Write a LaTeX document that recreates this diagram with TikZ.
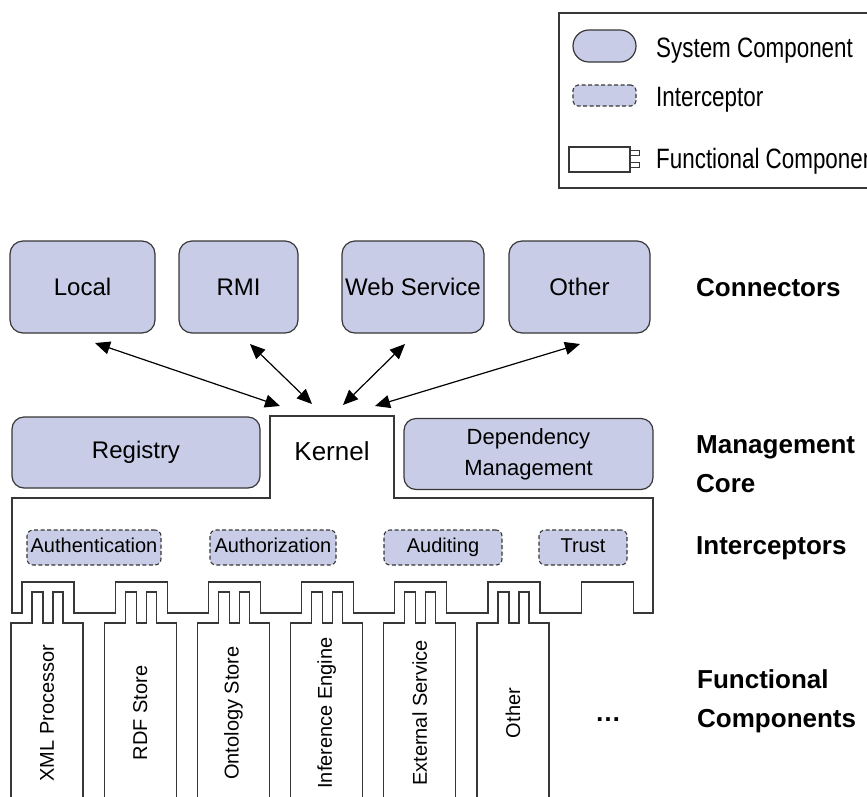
\documentclass[tikz,border=0pt]{standalone}
\usepackage{fontspec}
\usepackage{graphicx}
\setmainfont{Liberation Sans}
\usetikzlibrary{arrows.meta}
\definecolor{fillc}{RGB}{201,204,230}
\definecolor{linec}{RGB}{55,55,55}
\begin{document}
\begin{tikzpicture}[x=1pt,y=-1pt,
  sys/.style={draw=linec, fill=fillc, rounded corners=13pt, line width=1.2pt, inner sep=0pt, align=center, font=\fontsize{24}{28}\selectfont},
  icp/.style={draw=linec, fill=fillc, dash pattern=on 4pt off 2.5pt, rounded corners=6pt, line width=1.1pt, inner sep=0pt, text height=14.5pt, text depth=4.2pt, font=\fontsize{20}{24}\selectfont},
  lbl/.style={font=\fontsize{26}{39}\selectfont\bfseries, align=left, anchor=west, inner sep=0pt},
  outl/.style={line width=1.2pt, draw=linec},
  fctext/.style={rotate=90, inner sep=0pt, font=\fontsize{20}{24}\selectfont},
  legtext/.style={anchor=base west, inner sep=0pt, font=\fontsize{28}{32}\selectfont},
  arr/.style={{Triangle[length=15pt,width=13pt]}-{Triangle[length=15pt,width=13pt]}, line width=1.2pt, draw=black},
]
\useasboundingbox (0,0) rectangle (867,796);
\clip (0,0) rectangle (867,796);

% legend
\draw[outl] (870,13) -- (559,13) -- (559,188) -- (870,188);
\node[draw=linec, fill=fillc, line width=1.2pt, rounded corners=15.9pt, minimum width=63pt, minimum height=32pt, inner sep=0pt] (lsys) at (604.5,46) {};
\node[icp, minimum width=63pt, minimum height=21pt, rounded corners=5pt] (licp) at (604.5,95.5) {};
\node[draw=linec, fill=white, line width=1.2pt, minimum width=61pt, minimum height=25pt, inner sep=0pt] (lfc) at (599.5,159.5) {};
\draw[outl] (lfc.east) ++(0,-9) -- ++(9,0) -- ++(0,5) -- ++(-9,0);
\draw[outl] (lfc.east) ++(0,3) -- ++(9,0) -- ++(0,5) -- ++(-9,0);
\node[legtext] (tsys) at (656,57) {\scalebox{0.8}[1]{System Component}};
\node[legtext] (ticp) at (656,106) {\scalebox{0.8}[1]{Interceptor}};
\node[legtext] (tfc) at (656,168) {\scalebox{0.8}[1]{Functional Component}};

% connectors
\node[sys, minimum width=145pt, minimum height=92pt] (local) at (82.5,287) {Local};
\node[sys, minimum width=119pt, minimum height=92pt] (rmi) at (238.5,287) {RMI};
\node[sys, minimum width=142pt, minimum height=92pt] (ws) at (413,287) {Web Service};
\node[sys, minimum width=141pt, minimum height=92pt] (other) at (579.5,287) {Other};

% kernel outline
\draw[outl] (270,416) -- (394,416) -- (394,498) -- (653,498) -- (653,613)
  -- (633.2,613) -- (633.2,582) -- (581.2,582) -- (581.2,613)
  -- (540,613) -- (540,582) -- (488,582) -- (488,613)
  -- (446.8,613) -- (446.8,582) -- (394.8,582) -- (394.8,613)
  -- (353.6,613) -- (353.6,582) -- (301.6,582) -- (301.6,613)
  -- (260.4,613) -- (260.4,582) -- (208.4,582) -- (208.4,613)
  -- (167.2,613) -- (167.2,582) -- (115.2,582) -- (115.2,613)
  -- (74,613) -- (74,582) -- (22,582) -- (22,613)
  -- (12,613) -- (12,498) -- (270,498) -- cycle;
\node[inner sep=0pt, font=\fontsize{26}{30}\selectfont] (kernel) at (332,451) {Kernel};

% arrows
\coordinate (a1) at (95,343);  \coordinate (b1) at (280,406);
\coordinate (a2) at (250,344); \coordinate (b2) at (312,404);
\coordinate (a3) at (405,344); \coordinate (b3) at (343,405);
\coordinate (a4) at (580,344); \coordinate (b4) at (375,406);
\draw[arr] (a1) -- (b1);
\draw[arr] (a2) -- (b2);
\draw[arr] (a3) -- (b3);
\draw[arr] (a4) -- (b4);

% management core
\node[sys, rounded corners=12pt, minimum width=248pt, minimum height=71pt] (registry) at (136,452.5) {Registry};
\node[sys, rounded corners=12pt, minimum width=249pt, minimum height=71pt, font=\fontsize{22}{31}\selectfont] (dep) at (528.5,454) {Dependency\\Management};

% interceptors
\node[icp, minimum width=134pt, minimum height=35pt] (authn) at (94,547.5) {Authentication};
\node[icp, minimum width=126pt, minimum height=35pt] (authz) at (273,547.5) {Authorization};
\node[icp, minimum width=118pt, minimum height=35pt] (audit) at (443,547.5) {Auditing};
\node[icp, minimum width=88pt, minimum height=35pt] (trust) at (583,547.5) {Trust};

% functional components
\foreach \i/\t in {0/XML Processor,1/RDF Store,2/Ontology Store,3/Inference Engine,4/External Service,5/Other}{
  \pgfmathsetmacro{\L}{11+93.2*\i}
  \draw[outl] (\L,800) -- (\L,623) -- (\L+21,623) -- (\L+21,592) -- (\L+32,592) -- (\L+32,623)
     -- (\L+42,623) -- (\L+42,592) -- (\L+52,592) -- (\L+52,623) -- (\L+72,623) -- (\L+72,800);
  \node[fctext] (fc\i) at (\L+36,713) {\t};
}
\node[anchor=base, inner sep=0pt, font=\fontsize{26}{30}\selectfont\bfseries] (dots) at (608,721) {\dots};

% right labels
\node[lbl] (lconn) at (696,288) {Connectors};
\node[lbl] (lmgmt) at (696,464) {Management\\Core};
\node[lbl] (licpt) at (696,548) {Interceptors};
\node[lbl] (lfunc) at (697,701) {Functional\\Components};
\end{tikzpicture}
\end{document}
